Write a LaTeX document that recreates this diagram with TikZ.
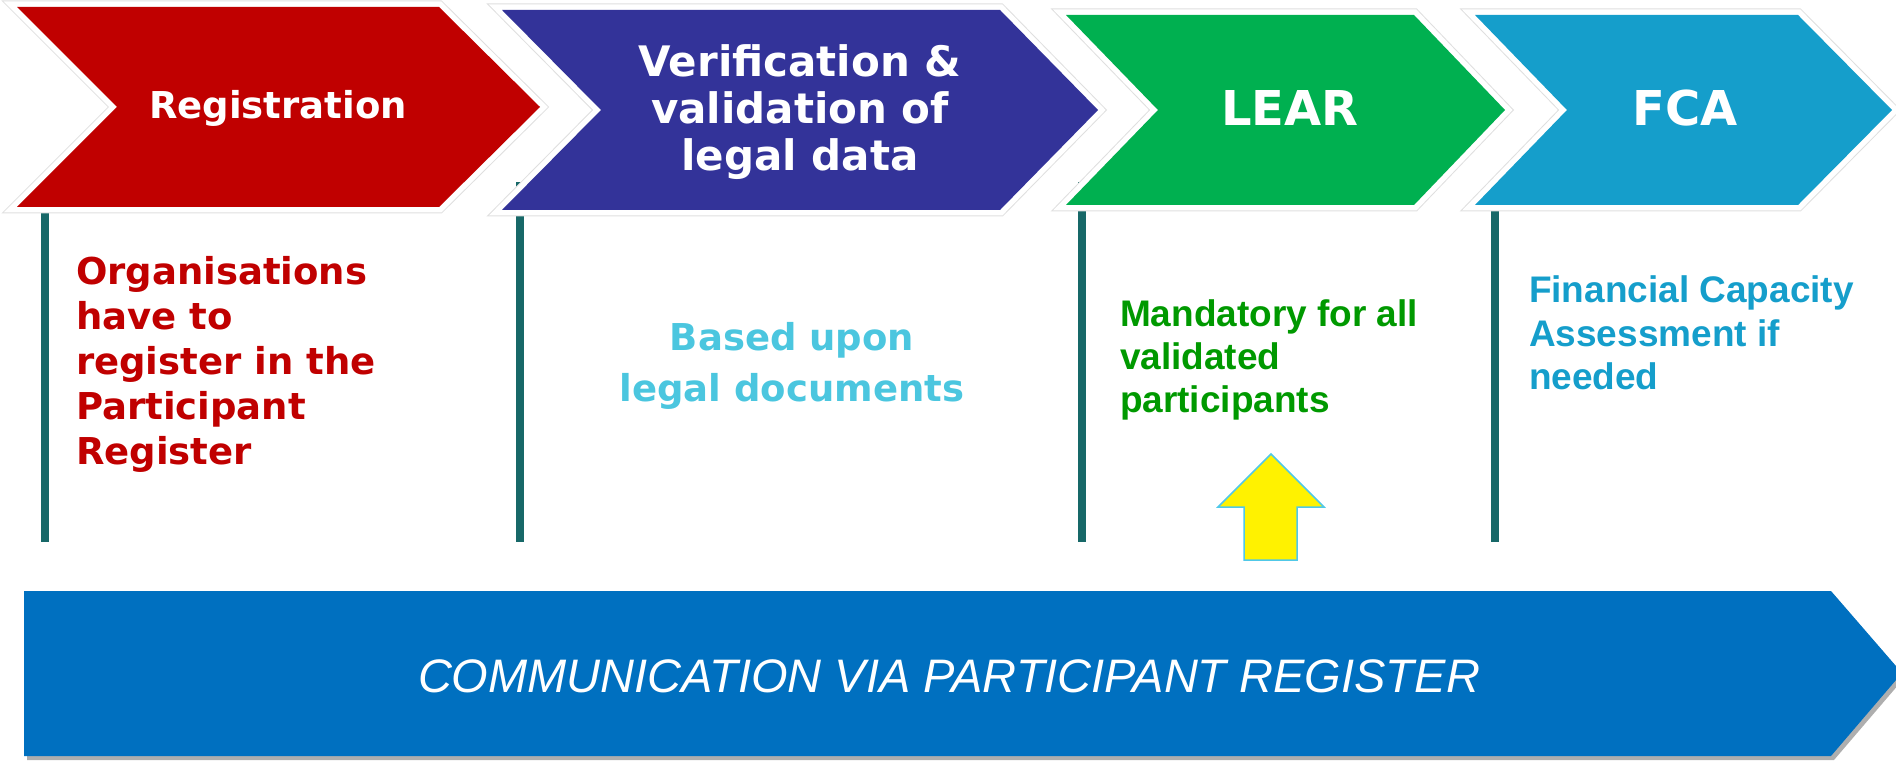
\documentclass[tikz,border=0pt]{standalone}
\usepackage{fontspec}
\setmainfont{DejaVu Sans}% Verdana-like, for the bold labels
\newfontfamily\arialfont{Liberation Sans}
\usetikzlibrary{positioning}
\definecolor{regred}{RGB}{192,0,0}
\definecolor{valblue}{RGB}{51,51,153}
\definecolor{leargreen}{RGB}{0,176,80}
\definecolor{fcablue}{RGB}{21,158,203}
\definecolor{postteal}{RGB}{23,104,104}
\definecolor{basedcyan}{RGB}{75,198,223}
\definecolor{mandgreen}{RGB}{0,153,0}
\definecolor{commblue}{RGB}{0,112,192}
\definecolor{arrowrim}{RGB}{80,200,232}
\tikzset{every node/.style={inner sep=0pt, outer sep=0pt},
  post/.style={draw=postteal, line width=7.5pt},
  headtext/.style={text=white, font=\bfseries\fontsize{37}{45}\selectfont},
  notetext/.style={font=\bfseries\fontsize{37}{45}\selectfont, align=left, anchor=north west}}
% #1 colour, #2 left, #3 notch, #4 corner, #5 tip, #6 top, #7 bottom
\newcommand{\chevron}[7]
{\path[fill=#1, preaction={draw=gray!25, line width=13pt},
    preaction={draw=white, line width=11pt}]
  (#2,#6) -- (#4,#6) -- (#5,{(#6+#7)/2}) -- (#4,#7) -- (#2,#7)
  -- (#3,{(#6+#7)/2}) -- cycle;}

\begin{document}
\begin{tikzpicture}[x=1pt,y=-1pt]
  \useasboundingbox (0,0) rectangle (1896,762);
  \foreach \x in {45,520,1082,1495} \draw[post] (\x,182) -- (\x,542);
  \chevron{regred}{17}{117}{439}{540}{7}{207}
  \chevron{valblue}{502}{601}{1000}{1098}{10}{210}
  \chevron{leargreen}{1066}{1158}{1414}{1505}{15}{205}
  \chevron{fcablue}{1475}{1567}{1798}{1892}{15}{205}
  \node[headtext, anchor=base] (reg) at (278,119) {Registration};
  \node[headtext, font=\bfseries\fontsize{42}{47}\selectfont, align=center,
    anchor=north] (verif) at (800,45) {Verification \&\\validation of\\legal data};
  \node[headtext, font=\bfseries\fontsize{48}{48}\selectfont, anchor=base]
    (lear) at (1290,126) {LEAR};
  \node[headtext, font=\bfseries\fontsize{48}{48}\selectfont, anchor=base]
    (fca) at (1685,126) {FCA};
  \node[notetext, text=regred] (regnote) at (76,256)
    {Organisations\\have to\\register in the\\Participant\\Register};
  \node[notetext, text=basedcyan, font=\bfseries\fontsize{37}{51}\selectfont,
    align=center, anchor=north] (basednote) at (792,322) {Based upon\\legal documents};
  \node[notetext, text=mandgreen, font=\arialfont\bfseries\fontsize{37}{43}\selectfont]
    (mandnote) at (1120,300) {Mandatory for all\\validated\\participants};
  \node[notetext, text=fcablue, font=\arialfont\bfseries\fontsize{37}{43.5}\selectfont]
    (fcanote) at (1529,276) {Financial Capacity\\Assessment if\\needed};
  \draw[arrowrim, fill=yellow, line width=1.5pt] (1271,454) -- (1324,507) -- (1297,507)
    -- (1297,560) -- (1244,560) -- (1244,507) -- (1218,507) -- cycle;
  \fill[black!45, opacity=0.7] (27,595) -- (1834,595) -- (1905,677) -- (1834,760)
    -- (27,760) -- cycle;
  \fill[commblue] (24,591) -- (1831,591) -- (1902,673) -- (1831,756) -- (24,756) -- cycle;
  \node[anchor=base, text=white, font=\arialfont\itshape\fontsize{47}{47}\selectfont]
    (comm) at (949,692) {COMMUNICATION VIA PARTICIPANT REGISTER};
\end{tikzpicture}
\end{document}
